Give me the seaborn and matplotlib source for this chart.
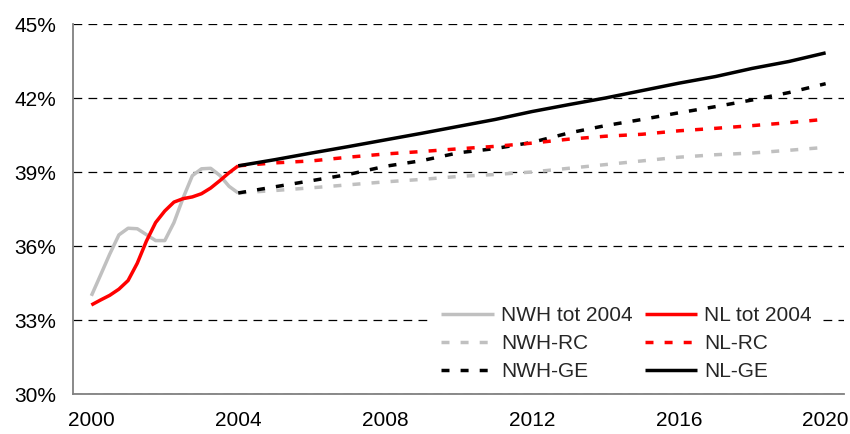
import pandas as pd
import seaborn as sns
import matplotlib.pyplot as plt

jaren_hist = [2000.0, 2000.25, 2000.5, 2000.75, 2001.0, 2001.25, 2001.5, 2001.75,
              2002.0, 2002.25, 2002.5, 2002.75, 2003.0, 2003.25, 2003.5, 2003.75, 2004.0]
nwh_tot_2004 = [33.98, 34.82, 35.67, 36.45, 36.72, 36.70, 36.46, 36.22,
                36.22, 36.95, 37.95, 38.85, 39.13, 39.15, 38.86, 38.42, 38.15]
nl_tot_2004 = [33.61, 33.81, 34.00, 34.25, 34.60, 35.30, 36.20, 36.95,
               37.42, 37.78, 37.92, 37.99, 38.12, 38.35, 38.65, 38.97, 39.25]

# Scenario's 2004-2020
jaren_proj = list(range(2004, 2021))
nwh_rc = [38.15, 38.25, 38.36, 38.48, 38.60, 38.70, 38.82, 38.90, 39.00,
          39.15, 39.30, 39.45, 39.60, 39.70, 39.77, 39.88, 40.00]
nl_rc = [39.25, 39.37, 39.45, 39.60, 39.73, 39.83, 39.94, 40.04, 40.17,
         40.33, 40.45, 40.53, 40.67, 40.77, 40.88, 41.00, 41.14]
nwh_ge = [38.15, 38.40, 38.65, 38.90, 39.23, 39.46, 39.78, 39.95, 40.20,
          40.58, 40.88, 41.13, 41.40, 41.65, 41.92, 42.22, 42.58]
nl_ge = [39.25, 39.50, 39.77, 40.03, 40.30, 40.57, 40.85, 41.13, 41.45,
         41.73, 42.00, 42.30, 42.60, 42.87, 43.20, 43.48, 43.83]

y_ticks = [30, 33, 36, 39, 42, 45]
x_ticks = [2000, 2004, 2008, 2012, 2016, 2020]

GRIJS = '#C0C0C0'
ROOD = '#FF0000'
ZWART = '#000000'
STIPPEL = (0, (2.3, 3.2))


def main():
    sns.set_style('white')
    plt.rcParams['font.family'] = ['Liberation Sans', 'DejaVu Sans']

    fig = plt.figure(figsize=(8.5, 4.34), dpi=100)
    ax = fig.add_axes([73 / 850, 1 - 394 / 434, (844 - 73) / 850, (394 - 24) / 434])

    lw = 2.5
    opmaak = dict(linewidth=lw, solid_joinstyle='round', solid_capstyle='butt', ax=ax)
    # volgorde bepaalt de kolommen van de legenda
    sns.lineplot(x=jaren_hist, y=nwh_tot_2004, color=GRIJS, label='NWH tot 2004', **opmaak)
    sns.lineplot(x=jaren_proj, y=nwh_rc, color=GRIJS, linestyle=STIPPEL, label='NWH-RC', **opmaak)
    sns.lineplot(x=jaren_proj, y=nwh_ge, color=ZWART, linestyle=STIPPEL, label='NWH-GE', **opmaak)
    sns.lineplot(x=jaren_hist, y=nl_tot_2004, color=ROOD, label='NL tot 2004', **opmaak)
    sns.lineplot(x=jaren_proj, y=nl_rc, color=ROOD, linestyle=STIPPEL, label='NL-RC', **opmaak)
    sns.lineplot(x=jaren_proj, y=nl_ge, color=ZWART, label='NL-GE', **opmaak)

    ax.set_xlim(1999.5, 2020.5)
    ax.set_ylim(30, 45)
    ax.set_xticks(x_ticks)
    ax.set_yticks(y_ticks)
    ax.set_yticklabels([f'{v}%' for v in y_ticks])
    ax.tick_params(axis='both', length=0, labelsize=15, colors='black', pad=12)

    ax.grid(axis='y', color='black', linewidth=0.9, linestyle=(0, (7, 5)))
    ax.grid(axis='x', visible=False)
    ax.set_axisbelow(True)

    for kant in ['top', 'right']:
        ax.spines[kant].set_visible(False)
    for kant in ['left', 'bottom']:
        ax.spines[kant].set_color('#808080')
        ax.spines[kant].set_linewidth(1.3)

    ax.set_xlabel('')
    ax.set_ylabel('')

    leg = ax.legend(ncol=2, loc='upper left', bbox_to_anchor=(431 / 850, 1 - 296 / 434),
                    bbox_transform=fig.transFigure, frameon=True, fontsize=15,
                    handlelength=2.5, handletextpad=0.35, columnspacing=0.6,
                    labelspacing=0.42, borderpad=0.5, borderaxespad=0, fancybox=False)
    leg.get_frame().set_facecolor('white')
    leg.get_frame().set_edgecolor('none')
    leg.get_frame().set_alpha(1)

    fig.savefig('out.png', dpi=100, facecolor='white')


if __name__ == "__main__":
    main()
